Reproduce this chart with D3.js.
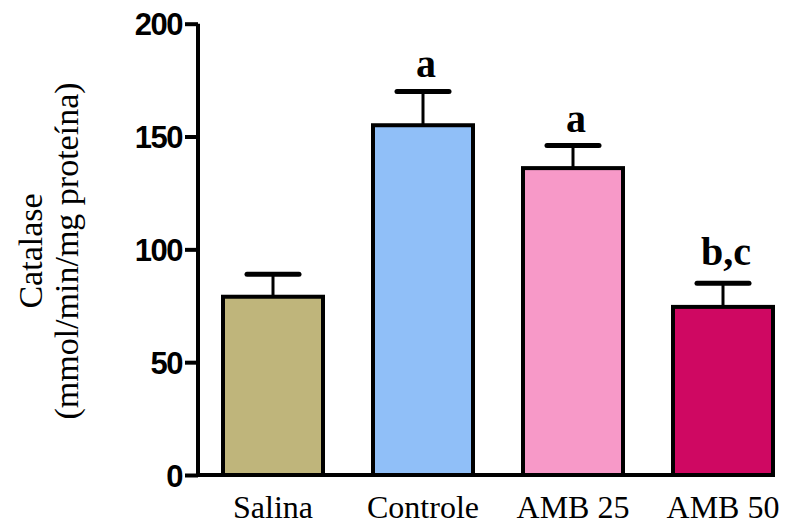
<!DOCTYPE html>
<html><head><meta charset="utf-8">
<script src="https://cdn.jsdelivr.net/npm/d3@7"></script>
<style>body{margin:0;background:#fff}</style>
</head><body>
<svg id="chart" width="791" height="528"></svg>
<script>
const categories = ["Salina", "Controle", "AMB 25", "AMB 50"];
const means = [79, 155, 136, 74.5];
const sems = [10, 15, 10, 10.5];
const sigLabels = ["", "a", "a", "b,c"];
const colors = ["#BFB57B", "#90BFF8", "#F799C8", "#CF0862"];
const yTicks = [0, 50, 100, 150, 200];

const svg = d3.select("#chart");
const y = d3.scaleLinear().domain([0, 200]).range([475, 23.7]);
const x = d3.scaleBand().domain(categories).range([198, 798]).paddingInner(1/3).paddingOuter(1/6);

// bars
svg.selectAll("rect.bar").data(categories).join("rect")
  .attr("x", d => x(d)).attr("width", x.bandwidth())
  .attr("y", (d, i) => y(means[i])).attr("height", (d, i) => y(0) - y(means[i]))
  .attr("fill", (d, i) => colors[i]).attr("stroke", "#000").attr("stroke-width", 4);

// error bars
const capW = 52;
svg.selectAll("line.err").data(categories).join("line")
  .attr("x1", d => x(d) + x.bandwidth() / 2).attr("x2", d => x(d) + x.bandwidth() / 2)
  .attr("y1", (d, i) => y(means[i])).attr("y2", (d, i) => y(means[i] + sems[i]))
  .attr("stroke", "#000").attr("stroke-width", 3);
svg.selectAll("line.cap").data(categories).join("line")
  .attr("x1", d => x(d) + x.bandwidth() / 2 - capW / 2).attr("x2", d => x(d) + x.bandwidth() / 2 + capW / 2)
  .attr("y1", (d, i) => y(means[i] + sems[i])).attr("y2", (d, i) => y(means[i] + sems[i]))
  .attr("stroke", "#000").attr("stroke-width", 5).attr("stroke-linecap", "round");

// significance labels
svg.selectAll("text.sig").data(categories).join("text")
  .attr("x", d => x(d) + x.bandwidth() / 2 + 3)
  .attr("y", (d, i) => y(means[i] + sems[i]) - (sigLabels[i].includes(",") ? 18 : 14))
  .attr("text-anchor", "middle")
  .attr("font-family", "Liberation Serif, Times New Roman, serif")
  .attr("font-weight", "bold").attr("font-size", 40)
  .text((d, i) => sigLabels[i]);

// y axis
const yAxis = d3.axisLeft(y).tickValues(yTicks).tickSize(13).tickPadding(3).tickFormat(d3.format("d"));
const gy = svg.append("g").attr("transform", "translate(198,0)").call(yAxis);
gy.select(".domain").attr("stroke", "#000").attr("stroke-width", 4).attr("d", `M0,${y(200)}V${y(0)}`);
gy.selectAll(".tick line").attr("stroke", "#000").attr("stroke-width", 4);
gy.selectAll(".tick text").attr("font-family", "Liberation Sans, Arial, sans-serif")
  .attr("font-weight", "bold").attr("font-size", 31).attr("letter-spacing", "-1.5px")
  .attr("fill", "#000").attr("dy", "0.36em");

// x axis
const gx = svg.append("g").attr("transform", `translate(0,${y(0)})`);
gx.append("line").attr("x1", 196).attr("x2", x(categories[3]) + x.bandwidth() + 2)
  .attr("stroke", "#000").attr("stroke-width", 4);
gx.selectAll("text").data(categories).join("text")
  .attr("x", d => x(d) + x.bandwidth() / 2).attr("y", 43)
  .attr("text-anchor", "middle")
  .attr("font-family", "Liberation Serif, Times New Roman, serif").attr("font-size", 32)
  .text(d => d);

// y title
const title = svg.append("text").attr("transform", "translate(0,251) rotate(-90)")
  .attr("text-anchor", "middle")
  .attr("font-family", "Liberation Serif, Times New Roman, serif").attr("font-size", 34);
title.append("tspan").attr("x", 0).attr("y", 42).text("Catalase");
title.append("tspan").attr("x", 0).attr("y", 78).text("(mmol/min/mg proteína)");
</script>
</body></html>
